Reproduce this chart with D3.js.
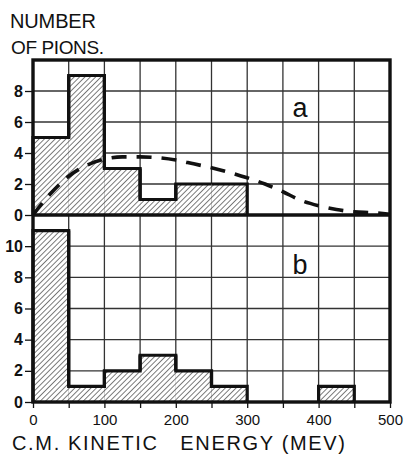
<!DOCTYPE html>
<html><head><meta charset="utf-8">
<script src="https://cdn.jsdelivr.net/npm/d3@7"></script>
<style>
html,body{margin:0;padding:0;background:#fff;}
svg{display:block;}
text{font-family:"Liberation Sans",Arial,sans-serif;fill:#111;}
</style></head>
<body>
<script>
// ---- data ----
const binEdges = [0,50,100,150,200,250,300,350,400,450,500];
const countsA = [5,9,3,1,2,2,0,0,0,0];
const countsB = [11,1,2,3,2,1,0,0,1,0];
const curveX = [0,25,50,75,100,125,150,175,200,225,250,275,300,325,350,375,400,425,450,475,500];
const curveY = [0,1.4,2.5,3.2,3.6,3.75,3.75,3.7,3.55,3.3,3.05,2.75,2.4,2.0,1.5,0.95,0.6,0.35,0.2,0.15,0.05];
const xTickLabels = [0,100,200,300,400,500];
const yTicksA = [0,2,4,6,8];
const yTicksB = [0,2,4,6,8,10];
const gridYA = [2,4,6,8];
const gridYB = [2,4,6,8,10];
const gridX = [50,100,150,200,250,300,350,400,450];
const minorX = [0,50,100,150,200,250,300,350,400,450,500];

const W=405,H=455;
const svg=d3.select("body").append("svg").attr("width",W).attr("height",H);

const defs=svg.append("defs");
const hs=3.8;
const pat=defs.append("pattern").attr("id","hatch").attr("patternUnits","userSpaceOnUse")
  .attr("width",hs).attr("height",hs).attr("patternTransform","rotate(45)");
pat.append("rect").attr("width",hs).attr("height",hs).attr("fill","#fff");
pat.append("line").attr("x1",0).attr("y1",0).attr("x2",0).attr("y2",hs)
  .attr("stroke","#111").attr("stroke-width",1.1);

const x=d3.scaleLinear().domain([0,500]).range([33,390]);
const yA=d3.scaleLinear().domain([0,10]).range([215,60]);
const yB=d3.scaleLinear().domain([0,12]).range([402,215]);

function panel(y, counts, gridY, yTicks, label, labelY){
  const g=svg.append("g");
  const [y0,y1]=y.range();
  g.selectAll(".gx").data(gridX).join("line")
    .attr("x1",d=>x(d)).attr("x2",d=>x(d)).attr("y1",y1).attr("y2",y0)
    .attr("stroke","#333").attr("stroke-width",1.3);
  g.selectAll(".gy").data(gridY).join("line")
    .attr("x1",x(0)).attr("x2",x(500)).attr("y1",d=>y(d)).attr("y2",d=>y(d))
    .attr("stroke","#333").attr("stroke-width",1.3);
  const bins=counts.map((c,i)=>({x0:binEdges[i],x1:binEdges[i+1],c}));
  g.selectAll(".bar").data(bins.filter(b=>b.c>0)).join("rect")
    .attr("x",d=>x(d.x0)).attr("width",d=>x(d.x1)-x(d.x0))
    .attr("y",d=>y(d.c)).attr("height",d=>y(0)-y(d.c))
    .attr("fill","url(#hatch)");
  let segs=[];
  bins.forEach((b,i)=>{
    if(b.c>0){
      const prev=i>0?bins[i-1].c:0, next=i<bins.length-1?bins[i+1].c:0;
      segs.push([[x(b.x0),y(prev)],[x(b.x0),y(b.c)],[x(b.x1),y(b.c)],[x(b.x1),y(next)]]);
    }
  });
  g.selectAll(".step").data(segs).join("path")
    .attr("d",d3.line()).attr("fill","none").attr("stroke","#111")
    .attr("stroke-width",3.2).attr("stroke-linejoin","miter");
  const ax=d3.axisLeft(y).tickValues(yTicks).tickSize(8).tickPadding(2);
  const ga=g.append("g").attr("transform",`translate(${x(0)},0)`).call(ax);
  ga.select(".domain").remove();
  ga.selectAll(".tick line").attr("stroke","#111").attr("stroke-width",1.3);
  ga.selectAll(".tick text").attr("font-size",16).attr("font-weight","bold")
    .attr("font-family","'Liberation Sans',Arial,sans-serif").attr("fill","#111");
  g.append("text").attr("x",x(374)).attr("y",labelY).attr("text-anchor","middle")
    .attr("font-size",27).attr("font-family","'DejaVu Sans',sans-serif").text(label);
  return g;
}
const gA=panel(yA,countsA,gridYA,yTicksA,"a",117);
svg.append("path").datum(curveX.map((v,i)=>[v,curveY[i]]))
  .attr("d",d3.line().x(d=>x(d[0])).y(d=>yA(d[1])).curve(d3.curveMonotoneX))
  .attr("fill","none").attr("stroke","#111").attr("stroke-width",3.6)
  .attr("stroke-dasharray","15,10");
const gB=panel(yB,countsB,gridYB,yTicksB,"b",274);

svg.append("rect").attr("x",x(0)).attr("y",yA(10)).attr("width",x(500)-x(0)).attr("height",yB(0)-yA(10))
  .attr("fill","none").attr("stroke","#111").attr("stroke-width",3.4);
svg.append("line").attr("x1",x(0)).attr("x2",x(500)).attr("y1",yA(0)).attr("y2",yA(0))
  .attr("stroke","#111").attr("stroke-width",3.4);

const xa=d3.axisBottom(x).tickValues(minorX).tickSize(6).tickPadding(6)
  .tickFormat(d=>xTickLabels.includes(d)?d:"");
const gx=svg.append("g").attr("transform",`translate(0,${yB(0)})`).call(xa);
gx.select(".domain").remove();
gx.selectAll(".tick line").attr("stroke","#111").attr("stroke-width",1.3);
gx.selectAll(".tick text").attr("font-size",15)
  .attr("font-family","'Liberation Sans',Arial,sans-serif").attr("fill","#111");

svg.append("text").attr("x",10).attr("y",28).attr("font-size",20).attr("textLength",86).text("NUMBER");
svg.append("text").attr("x",11).attr("y",54).attr("font-size",19).attr("textLength",93).text("OF PIONS.");
svg.append("text").attr("x",12).attr("y",450).attr("font-size",20).attr("textLength",333)
  .attr("xml:space","preserve").style("white-space","pre").text("C.M. KINETIC   ENERGY (MEV)");
</script>
</body></html>
